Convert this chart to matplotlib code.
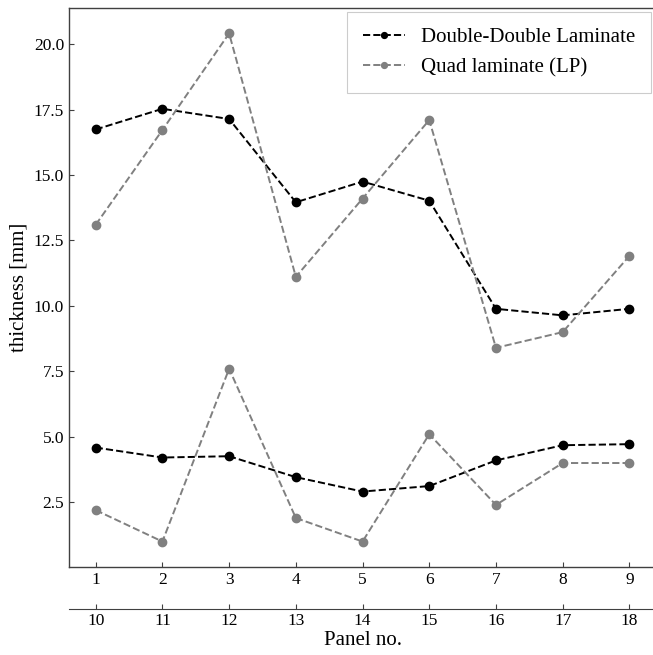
import matplotlib
matplotlib.use("Agg")
import matplotlib.pyplot as plt

panels_top = [1, 2, 3, 4, 5, 6, 7, 8, 9]
panels_bottom = [10, 11, 12, 13, 14, 15, 16, 17, 18]

dd_a = [16.74, 17.53, 17.14, 13.96, 14.75, 14.02, 9.89, 9.64, 9.89]
ql_a = [13.10, 16.72, 20.41, 11.11, 14.10, 17.10, 8.40, 9.00, 11.91]
dd_b = [4.59, 4.21, 4.26, 3.46, 2.91, 3.12, 4.10, 4.68, 4.72]
ql_b = [2.20, 1.00, 7.60, 1.90, 1.00, 5.10, 2.40, 4.00, 4.00]

plt.rcParams['font.family'] = ['Liberation Serif', 'DejaVu Serif']
plt.rcParams['mathtext.fontset'] = 'stix'

fig = plt.figure(figsize=(6.53, 6.55), dpi=100)
ax = fig.add_axes([0.1057, 0.1344, 0.8990, 0.8534])

spine_col = '#404040'
ax.plot(panels_top, dd_a, '--o', color='black', lw=1.4, ms=6, label='Double-Double Laminate')
ax.plot(panels_top, ql_a, '--o', color='#808080', lw=1.4, ms=6, label='Quad laminate (LP)')
ax.plot(panels_top, dd_b, '--o', color='black', lw=1.4, ms=6)
ax.plot(panels_top, ql_b, '--o', color='#808080', lw=1.4, ms=6)

ax.set_xticks(panels_top)
ax.set_xticklabels([str(p) for p in panels_top])
ax.set_yticks([2.5, 5.0, 7.5, 10.0, 12.5, 15.0, 17.5, 20.0])
ax.tick_params(direction='in', length=3.5, width=0.8, labelsize=12.5, color=spine_col)
for s in ax.spines.values():
    s.set_color(spine_col)
    s.set_linewidth(1.0)
ax.set_ylabel('thickness [mm]', fontsize=15)

ax2 = ax.twiny()
ax2.set_xlim(ax.get_xlim())
ax2.xaxis.set_ticks_position('bottom')
ax2.xaxis.set_label_position('bottom')
ax2.spines['bottom'].set_position(('outward', 30))
for k in ['top', 'left', 'right']:
    ax2.spines[k].set_visible(False)
ax2.spines['bottom'].set_color(spine_col)
ax2.set_xticks(panels_top)
ax2.set_xticklabels([str(p) for p in panels_bottom])
ax2.tick_params(direction='in', length=3.5, width=0.8, labelsize=12.5, color=spine_col)
ax2.set_xlabel('Panel no.', fontsize=15, labelpad=1)

leg = ax.legend(loc='upper right', fontsize=15, frameon=True, fancybox=False,
                markerscale=0.7, edgecolor='#cccccc', framealpha=1,
                bbox_to_anchor=(0.9915, 0.9928), borderaxespad=0,
                borderpad=0.75, handlelength=2.0)
leg.get_frame().set_linewidth(0.8)

fig.savefig('out.png', dpi=100)
